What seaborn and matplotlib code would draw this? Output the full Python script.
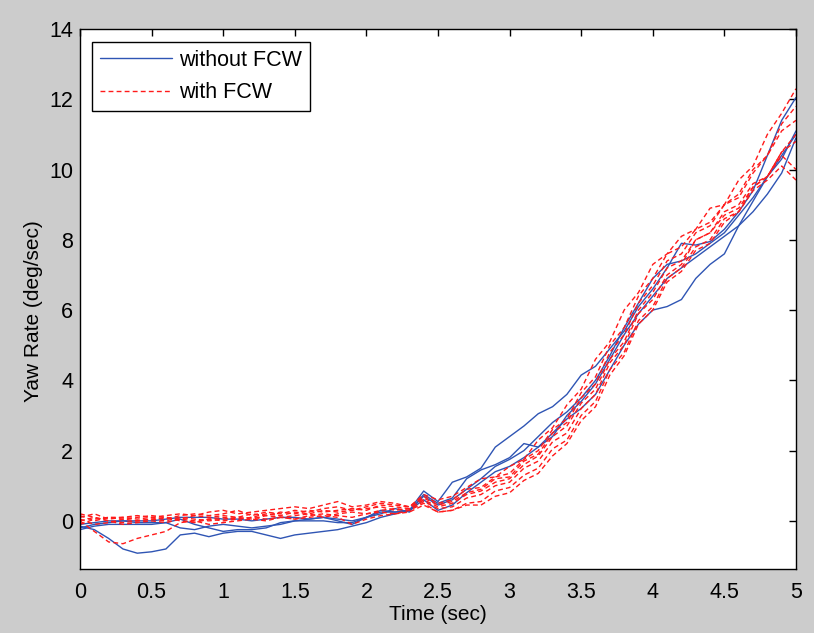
import matplotlib
matplotlib.use("Agg")
import matplotlib.pyplot as plt
import seaborn as sns
import pandas as pd
from matplotlib.ticker import FuncFormatter, MultipleLocator
from matplotlib.lines import Line2D

time_sec = [0.0, 0.1, 0.2, 0.3, 0.4, 0.5, 0.6, 0.7, 0.8, 0.9,
            1.0, 1.1, 1.2, 1.3, 1.4, 1.5, 1.6, 1.7, 1.8, 1.9,
            2.0, 2.1, 2.2, 2.3, 2.4, 2.5, 2.6, 2.7, 2.8, 2.9,
            3.0, 3.1, 3.2, 3.3, 3.4, 3.5, 3.6, 3.7, 3.8, 3.9,
            4.0, 4.1, 4.2, 4.3, 4.4, 4.5, 4.6, 4.7, 4.8, 4.9, 5.0]

# without FCW runs (blue, solid)
blue_1 = [-0.20, -0.10, -0.05, 0.00, 0.00, 0.00, 0.05, 0.10, 0.10, 0.10,
          0.05, 0.05, 0.00, 0.05, 0.10, 0.10, 0.05, 0.10, 0.05, 0.00,
          0.10, 0.30, 0.25, 0.30, 0.85, 0.55, 1.10, 1.25, 1.50, 2.10,
          2.40, 2.70, 3.05, 3.25, 3.60, 4.15, 4.40, 4.90, 5.40, 6.10,
          6.60, 7.20, 7.90, 7.85, 7.95, 8.30, 8.80, 9.40, 10.40, 11.40, 12.05]
blue_2 = [-0.10, -0.05, 0.00, 0.00, -0.05, -0.05, -0.05, -0.20, -0.25, -0.15,
          -0.10, -0.15, -0.20, -0.15, -0.10, 0.00, 0.05, 0.10, 0.00, -0.10,
          0.10, 0.20, 0.35, 0.25, 0.75, 0.50, 0.65, 1.20, 1.45, 1.60,
          1.80, 2.20, 2.10, 2.40, 3.00, 3.40, 3.90, 4.60, 5.30, 5.90,
          6.40, 6.90, 7.20, 7.50, 7.80, 8.10, 8.40, 9.10, 9.80, 10.40, 11.00]
blue_3 = [-0.15, -0.25, -0.50, -0.80, -0.92, -0.88, -0.80, -0.40, -0.35, -0.45,
          -0.35, -0.30, -0.30, -0.40, -0.50, -0.40, -0.35, -0.30, -0.25, -0.15,
          -0.05, 0.10, 0.20, 0.30, 0.60, 0.30, 0.45, 0.80, 1.10, 1.40,
          1.55, 1.80, 2.10, 2.50, 2.90, 3.20, 3.60, 4.30, 5.00, 5.60,
          6.00, 6.10, 6.30, 6.90, 7.30, 7.60, 8.40, 8.80, 9.30, 9.90, 10.90]
blue_4 = [-0.25, -0.15, -0.10, -0.10, -0.10, -0.10, -0.05, 0.05, -0.10, -0.20,
          -0.30, -0.25, -0.25, -0.20, -0.05, 0.00, 0.00, 0.00, -0.05, -0.05,
          0.10, 0.25, 0.25, 0.30, 0.70, 0.45, 0.60, 0.90, 1.20, 1.55,
          1.75, 2.00, 2.40, 2.80, 3.10, 3.50, 4.00, 4.70, 5.50, 6.20,
          6.90, 7.30, 7.40, 7.60, 7.90, 8.20, 8.70, 9.20, 9.80, 10.30, 11.10]

# with FCW runs (red, dashed)
red_1 = [0.15, 0.00, 0.10, 0.10, 0.15, 0.10, 0.15, 0.20, 0.15, 0.25,
         0.30, 0.20, 0.25, 0.30, 0.35, 0.40, 0.35, 0.45, 0.55, 0.40,
         0.45, 0.55, 0.50, 0.40, 0.75, 0.60, 0.70, 0.95, 1.20, 1.25,
         1.55, 1.75, 2.30, 2.65, 3.30, 3.75, 4.60, 5.10, 6.00, 6.50,
         7.30, 7.60, 8.10, 8.30, 8.90, 9.00, 9.70, 10.10, 11.00, 11.60, 12.30]
red_2 = [0.05, -0.10, -0.05, 0.05, 0.00, 0.05, 0.10, 0.05, 0.15, 0.10,
         0.15, 0.10, 0.20, 0.15, 0.25, 0.20, 0.30, 0.25, 0.30, 0.35,
         0.30, 0.45, 0.40, 0.35, 0.65, 0.45, 0.55, 0.80, 0.90, 1.20,
         1.25, 1.70, 1.90, 2.50, 2.80, 3.50, 3.90, 4.80, 5.30, 6.20,
         6.70, 7.40, 7.60, 8.20, 8.40, 9.00, 9.20, 9.90, 10.40, 11.30, 11.80]
red_3 = [0.20, 0.10, 0.00, -0.05, 0.00, 0.05, 0.00, 0.10, 0.05, 0.00,
         0.05, 0.10, 0.05, 0.15, 0.10, 0.15, 0.20, 0.10, 0.20, 0.25,
         0.20, 0.30, 0.35, 0.30, 0.55, 0.35, 0.40, 0.65, 0.75, 1.00,
         1.10, 1.50, 1.70, 2.25, 2.50, 3.20, 3.60, 4.50, 5.00, 5.90,
         6.30, 7.00, 7.30, 8.00, 8.20, 8.80, 9.00, 9.60, 9.80, 10.50, 11.00]
red_4 = [0.00, -0.30, -0.60, -0.65, -0.50, -0.40, -0.30, -0.05, 0.00, -0.10,
         -0.05, 0.00, 0.05, 0.00, 0.10, 0.05, 0.10, 0.15, 0.10, -0.10,
         0.05, 0.15, 0.20, 0.25, 0.45, 0.25, 0.30, 0.50, 0.55, 0.85,
         0.95, 1.30, 1.50, 2.05, 2.30, 3.00, 3.40, 4.30, 4.80, 5.70,
         6.10, 6.90, 7.20, 7.80, 8.00, 8.60, 8.80, 9.40, 9.70, 10.10, 9.70]
red_5 = [-0.10, 0.05, 0.10, 0.05, 0.10, 0.15, 0.10, 0.00, -0.05, 0.05,
         0.10, 0.05, 0.10, 0.20, 0.15, 0.25, 0.20, 0.30, 0.25, 0.30,
         0.35, 0.40, 0.30, 0.35, 0.60, 0.40, 0.50, 0.75, 0.85, 1.10,
         1.20, 1.60, 1.85, 2.40, 2.70, 3.35, 3.75, 4.60, 5.10, 6.00,
         6.50, 7.20, 7.40, 8.00, 8.20, 8.70, 8.90, 9.50, 9.80, 10.40, 10.00]
red_6 = [0.10, 0.20, 0.05, 0.10, 0.05, 0.10, 0.05, 0.15, 0.20, 0.15,
         0.20, 0.30, 0.15, 0.25, 0.20, 0.30, 0.25, 0.35, 0.40, 0.30,
         0.40, 0.50, 0.45, 0.40, 0.70, 0.50, 0.60, 0.90, 0.95, 1.25,
         1.35, 1.75, 2.00, 2.60, 2.90, 3.65, 4.10, 5.00, 5.50, 6.40,
         6.90, 7.60, 7.80, 8.30, 8.50, 9.00, 9.30, 10.00, 10.40, 11.10, 11.40]
red_7 = [0.00, 0.10, 0.00, -0.10, -0.05, 0.00, -0.05, 0.05, 0.00, 0.05,
         0.00, 0.05, 0.10, 0.05, 0.10, 0.05, 0.15, 0.20, 0.15, 0.10,
         0.20, 0.25, 0.20, 0.30, 0.50, 0.25, 0.30, 0.45, 0.45, 0.70,
         0.80, 1.15, 1.35, 1.85, 2.20, 2.85, 3.25, 4.15, 4.70, 5.60,
         6.00, 6.80, 7.10, 7.70, 7.90, 8.50, 8.80, 9.50, 9.80, 10.50, 10.80]

blue_runs = [blue_1, blue_2, blue_3, blue_4]
red_runs = [red_1, red_2, red_3, red_4, red_5, red_6, red_7]

rows = []
for i, run in enumerate(blue_runs):
    for t, v in zip(time_sec, run):
        rows.append({"time": t, "yaw": v, "group": "without FCW", "run": f"b{i}"})
for i, run in enumerate(red_runs):
    for t, v in zip(time_sec, run):
        rows.append({"time": t, "yaw": v, "group": "with FCW", "run": f"r{i}"})
df = pd.DataFrame(rows)

sns.set_style("white")
plt.rcParams["font.family"] = ["Liberation Sans", "DejaVu Sans"]
plt.rcParams["text.color"] = "black"
plt.rcParams["axes.labelcolor"] = "black"

fig = plt.figure(figsize=(8.14, 6.33), dpi=100, facecolor="#cccccc")
ax = fig.add_axes([80 / 814, 64 / 633, 716 / 814, 540 / 633])
ax.set_facecolor("white")

blue_c = "#2f55b4"
red_c = "#ff1a1a"
dash = (3.5, 2.3)
sns.lineplot(data=df, x="time", y="yaw", hue="group", style="group",
             units="run", estimator=None, ax=ax,
             palette={"without FCW": blue_c, "with FCW": red_c},
             dashes={"without FCW": "", "with FCW": dash},
             linewidth=1.0, legend=False)

ax.set_xlim(0, 5)
ax.set_ylim(-1.37, 14)
ax.xaxis.set_major_locator(MultipleLocator(0.5))
ax.yaxis.set_major_locator(MultipleLocator(2))
fmt = FuncFormatter(lambda v, p: f"{v:g}")
ax.xaxis.set_major_formatter(fmt)
ax.yaxis.set_major_formatter(fmt)
ax.tick_params(direction="in", length=5, width=1, colors="black",
               labelsize=15.5, top=True, right=True, pad=5)
ax.tick_params(axis="x", pad=9)
for s in ax.spines.values():
    s.set_visible(True)
    s.set_color("black")
    s.set_linewidth(1.0)
ax.set_xlabel("Time (sec)", fontsize=15, color="black")
ax.set_ylabel("Yaw Rate (deg/sec)", fontsize=15, color="black")
ax.xaxis.set_label_coords(0.5, -0.066)
ax.yaxis.set_label_coords(-0.052, 0.478)

handles = [Line2D([], [], color=blue_c, lw=1.0),
           Line2D([], [], color=red_c, lw=1.0, dashes=dash)]
leg = ax.legend(handles, ["without FCW", "with FCW"], loc="upper left",
                bbox_to_anchor=(12 / 716, 1 - 13 / 540), borderaxespad=0,
                fontsize=15.5, handlelength=3.35, handletextpad=0.35,
                frameon=True, fancybox=False, borderpad=0.35, labelspacing=0.55)
leg.get_frame().set_edgecolor("black")
leg.get_frame().set_linewidth(1.0)
leg.get_frame().set_alpha(1)
for txt in leg.get_texts():
    txt.set_color("black")

fig.savefig("out.png", dpi=100, facecolor=fig.get_facecolor())
